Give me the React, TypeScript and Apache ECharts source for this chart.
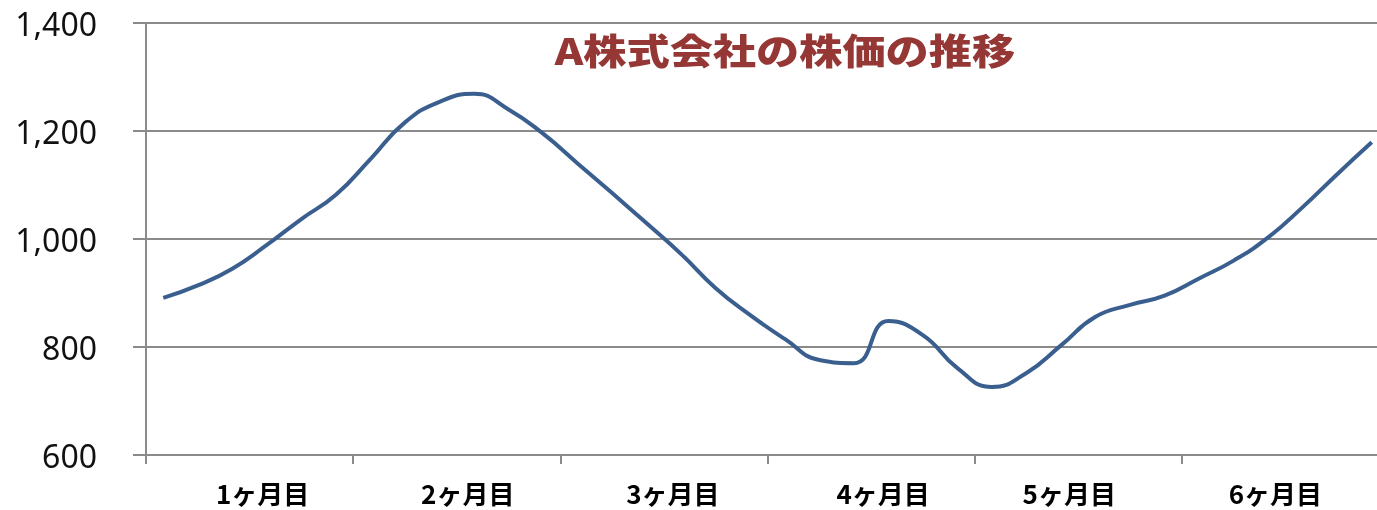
import React, { useEffect, useRef } from "react";
import * as echarts from "echarts";

const chartTitle = "A株式会社の株価の推移";
const months = ["1ヶ月目", "2ヶ月目", "3ヶ月目", "4ヶ月目", "5ヶ月目", "6ヶ月目"];
const periodsPerMonth = 6;
const periods = months.flatMap((m) =>
  Array.from({ length: periodsPerMonth }, (_, i) => `${m} 第${i + 1}期`)
);
const prices = [
  891, 914, 945, 989, 1037, 1082,
  1148, 1216, 1254, 1269, 1240, 1195,
  1140, 1085, 1029, 972, 909, 859,
  815, 776, 770, 848, 822, 761,
  726, 752, 803, 856, 878, 895,
  927, 960, 1003, 1059, 1120, 1179,
];
const yMin = 600;
const yMax = 1400;
const yStep = 200;

// label nudges (layout only)
const labelShift = [13, 11, 9, 12, -9, -10];

const GRAY = "#8a8a8a";
const CHART_W = 1400;

export default function App() {
  const ref = useRef<HTMLDivElement>(null);
  useEffect(() => {
    if (!ref.current) return;
    const chart = echarts.init(ref.current, null, { renderer: "svg" });
    const rich: Record<string, any> = {};
    labelShift.forEach((s, i) => {
      rich["o" + i] = {
        fontSize: 26,
        lineHeight: 26,
        fontWeight: "bold",
        fontFamily: '"Noto Sans CJK JP", sans-serif',
        color: "#000",
        padding: s >= 0 ? [0, 0, 0, s * 2] : [0, -s * 2, 0, 0],
      };
    });
    chart.setOption({
      animation: false,
      grid: { left: 146, right: CHART_W - 1389, top: 23, bottom: 55, containLabel: false },
      xAxis: [
        {
          type: "category",
          data: periods,
          show: false,
          boundaryGap: true,
        },
        {
          type: "category",
          data: months,
          position: "bottom",
          boundaryGap: true,
          axisLine: { show: true, lineStyle: { color: GRAY, width: 2 } },
          axisTick: { show: true, length: 9, lineStyle: { color: GRAY, width: 2 } },
          splitLine: { show: false },
          axisLabel: {
            interval: 0,
            margin: 24,
            formatter: (v: string, i: number) => `{o${i}|${v}}`,
            rich,
          },
        },
      ],
      yAxis: {
        type: "value",
        min: yMin,
        max: yMax,
        interval: yStep,
        axisLine: { show: true, lineStyle: { color: GRAY, width: 2 } },
        axisTick: { show: true, length: 13, lineStyle: { color: GRAY, width: 2 } },
        splitLine: { show: true, lineStyle: { color: GRAY, width: 2 } },
        axisLabel: {
          margin: 49,
          fontSize: 32,
          fontFamily: '"Noto Sans", sans-serif',
          color: "#111",
          formatter: (v: number) => v.toLocaleString("en-US"),
        },
      },
      series: [
        {
          type: "line",
          xAxisIndex: 0,
          data: prices,
          smooth: 0.5,
          symbol: "none",
          lineStyle: { color: "#3a5f8f", width: 4 },
        },
      ],
      graphic: [
        {
          type: "text",
          x: 785,
          y: 49,
          scaleX: 1.2,
          style: {
            text: chartTitle,
            fontSize: 36,
            fontWeight: 900,
            fontFamily: '"Noto Sans CJK JP", sans-serif',
            fill: "#953735",
            align: "center",
            verticalAlign: "middle",
          },
        },
      ],
    });
    return () => chart.dispose();
  }, []);
  return (
    <div
      style={{
        position: "fixed",
        left: 0,
        top: 0,
        width: 1377,
        height: 510,
        overflow: "hidden",
      }}
    >
      <div ref={ref} style={{ width: CHART_W, height: 510 }} />
    </div>
  );
}
